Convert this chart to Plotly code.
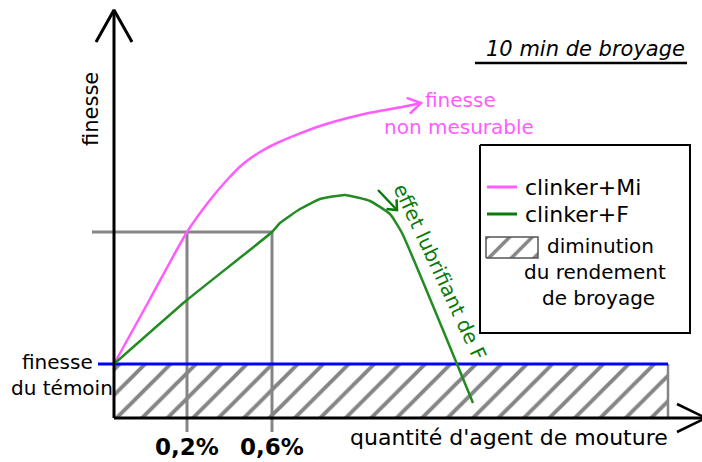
import math
import plotly.graph_objects as go

# ---- data (arbitrary schematic units: x = quantité d'agent, y = finesse) ----
mi_x = [0, 36, 73, 96, 113, 129, 146, 163, 203, 246, 293, 307]
mi_y = [54, 119, 186, 218, 238, 254, 266, 275, 291, 303, 312, 315]
f_x = [0, 73, 158, 166, 186, 206, 231, 256, 276, 288, 359]
f_y = [54, 118, 186, 195, 209, 219, 223, 217, 204, 185, 15]
ref_fineness = 54          # finesse du témoin
x_end = 554                # fin de la zone hachurée
dose_labels = ["0,2%", "0,6%"]
dose_x = [73, 158]
dose_level = 186
axis_top = 408
axis_right = 592

PINK = "#ff5cff"
GREEN = "#228b22"
LGREEN = "#0a7a0a"
GRAY = "#858585"
BLUE = "#0000ff"
FONT = "DejaVu Sans"


def head(tip, frm, length, half):
    dx, dy = tip[0] - frm[0], tip[1] - frm[1]
    n = math.hypot(dx, dy)
    ux, uy = dx / n, dy / n
    bx, by = tip[0] - ux * length, tip[1] - uy * length
    px, py = -uy, ux
    return ([bx + px * half, tip[0], bx - px * half],
            [by + py * half, tip[1], by - py * half])


fig = go.Figure()


def line(xs, ys, color, width, shape="linear", smoothing=None):
    ln = dict(color=color, width=width, shape=shape)
    if smoothing is not None:
        ln["smoothing"] = smoothing
    fig.add_trace(go.Scatter(x=xs, y=ys, mode="lines", line=ln,
                             hoverinfo="skip", showlegend=False))


pattern = dict(shape="/", fgcolor=GRAY, bgcolor="white", size=18,
               solidity=0.22, fillmode="replace")

# hatched zone
fig.add_trace(go.Scatter(x=[0, x_end, x_end, 0, 0], y=[0, 0, ref_fineness, ref_fineness, 0],
                         mode="none", fill="toself", fillcolor="white",
                         fillpattern=pattern, hoverinfo="skip", showlegend=False))
line([x_end, x_end], [-1, ref_fineness], GRAY, 2.5)

# gray guide lines
line([-22, dose_x[1]], [dose_level, dose_level], GRAY, 3)
for dx_ in dose_x:
    line([dx_, dx_], [dose_level, -14], GRAY, 3)

# blue reference line
line([-16, x_end], [ref_fineness, ref_fineness], BLUE, 3)

# curves
line(mi_x, mi_y, PINK, 2.5, "spline", 0.6)
line(f_x, f_y, GREEN, 2.5, "spline", 0.4)

# pink arrow head at end of curve
hx, hy = head((mi_x[-1], mi_y[-1]), (mi_x[-2], mi_y[-2]), 13, 8)
line(hx, hy, PINK, 2.5)

# small green arrow
ga_from, ga_tip = (264, 228), (283, 208)
line([ga_from[0], ga_tip[0]], [ga_from[1], ga_tip[1]], LGREEN, 2.5)
hx, hy = head(ga_tip, ga_from, 8, 7)
line(hx, hy, LGREEN, 2.5)

# axes with arrows
line([0, 0], [0, axis_top], "black", 3)
hx, hy = head((0, axis_top), (0, 0), 32, 18)
line(hx, hy, "black", 3)
line([0, axis_right], [0, 0], "black", 3)
hx, hy = head((axis_right, 0), (0, 0), 29, 14)
line(hx, hy, "black", 2.5)

# legend box
line([366, 576, 576, 366, 366], [273, 273, 85, 85, 273], "black", 2)
line([373, 403], [231, 231], PINK, 3)
line([373, 403], [204, 204], LGREEN, 3)
fig.add_trace(go.Scatter(x=[372, 424, 424, 372, 372], y=[160, 160, 181, 181, 160],
                         mode="lines", line=dict(color="#555555", width=1.5),
                         fill="toself", fillcolor="white", fillpattern=dict(pattern, size=16),
                         hoverinfo="skip", showlegend=False))

ann = []


def text(x, y, s, size=20, color="black", xanchor="center", angle=0, bold=False, italic=False):
    if bold:
        s = "<b>" + s + "</b>"
    if italic:
        s = "<i>" + s + "</i>"
    ann.append(dict(x=x, y=y, text=s, showarrow=False, xanchor=xanchor, yanchor="middle",
                    textangle=angle, font=dict(family=FONT, size=size, color=color)))


text(409, 231, "clinker+Mi", 22, xanchor="left")
text(409, 204, "clinker+F", 22, xanchor="left")
text(431, 172, "diminution", 20, xanchor="left")
text(481, 146, "du rendement", 20)
text(484, 120, "de broyage", 20)

text(573, 369, "10 min de broyage", 21, xanchor="right", italic=True)
text(346, 318, "finesse", 20, color=PINK)
text(345, 291, "non mesurable", 20, color=PINK)
text(-23, 309, "finesse", 21, angle=-90)
text(-57, 56, "finesse", 20)
text(-52, 30, "du témoin", 20)
for lab, xv in zip(dose_labels, dose_x):
    text(xv, -29, lab, 23, bold=True)
text(234, -19, "quantité d'agent de mouture", 22, xanchor="left")
text(326, 146, "effet lubrifiant de F", 20, color=LGREEN, angle=65)

fig.add_shape(type="line", x0=361, x1=573, y0=355, y1=355, xref="x", yref="y",
              line=dict(color="black", width=2.5))

fig.update_layout(
    width=702, height=462,
    margin=dict(l=0, r=0, t=0, b=0),
    paper_bgcolor="white", plot_bgcolor="white",
    showlegend=False,
    annotations=ann,
    xaxis=dict(visible=False, range=[-114, 588], fixedrange=True),
    yaxis=dict(visible=False, range=[-44, 418], fixedrange=True),
)

fig.write_html("out.html", config={"displayModeBar": False},
               post_script="document.body.style.margin='0';document.body.style.overflow='hidden';")
